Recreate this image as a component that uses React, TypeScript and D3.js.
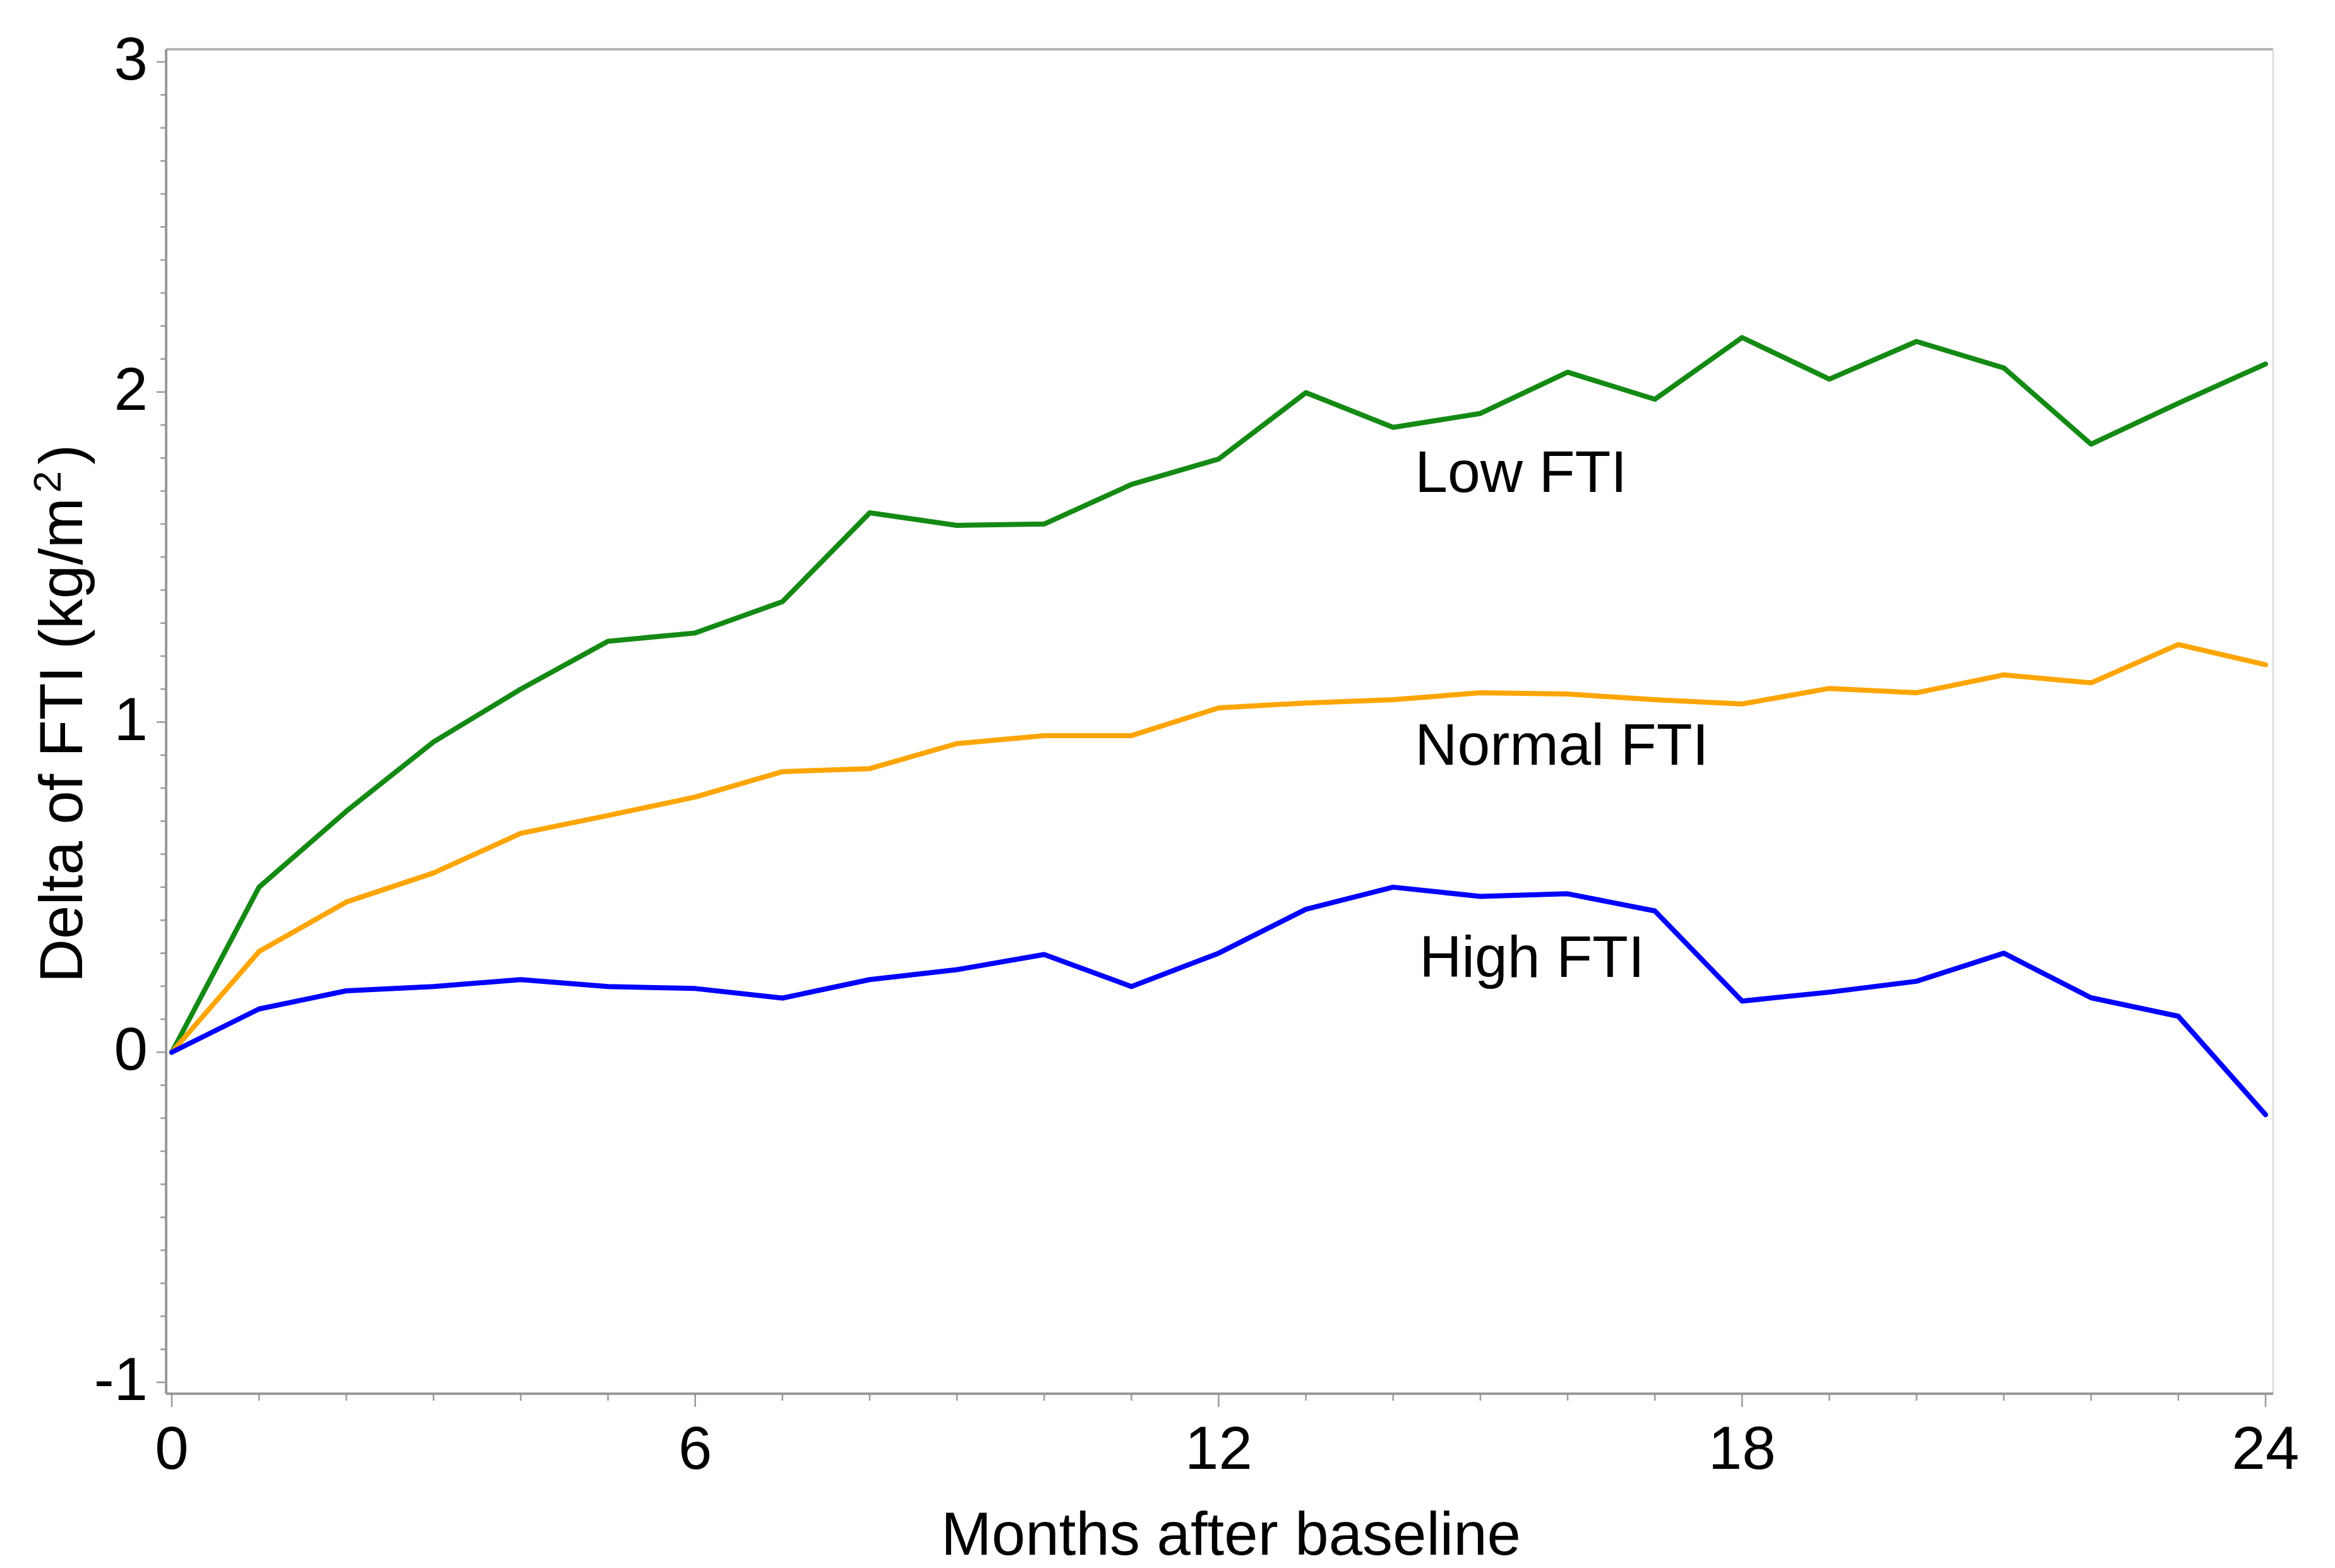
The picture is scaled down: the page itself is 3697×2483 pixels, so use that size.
import React from 'react';
import * as d3 from 'd3';

// months 0..24 after baseline
const months = d3.range(0, 25);

const lowFTI = [
  0, 0.50, 0.73, 0.94, 1.10, 1.245, 1.27, 1.365, 1.634, 1.596, 1.60, 1.72, 1.797,
  1.998, 1.893, 1.935, 2.06, 1.978, 2.165, 2.039, 2.153, 2.073, 1.842, 1.966, 2.085,
];
const normalFTI = [
  0, 0.305, 0.455, 0.543, 0.663, 0.717, 0.773, 0.85, 0.859, 0.935, 0.959, 0.959, 1.043,
  1.058, 1.068, 1.089, 1.085, 1.068, 1.055, 1.102, 1.089, 1.143, 1.119, 1.235, 1.174,
];
const highFTI = [
  0, 0.131, 0.186, 0.199, 0.22, 0.199, 0.193, 0.164, 0.22, 0.25, 0.296, 0.199, 0.30,
  0.433, 0.50, 0.472, 0.48, 0.428, 0.155, 0.182, 0.215, 0.30, 0.165, 0.109, -0.189,
];

const seriesNames = ['Low FTI', 'Normal FTI', 'High FTI'];
const seriesValues = [lowFTI, normalFTI, highFTI];
const seriesColors = ['#148a14', '#ffa500', '#0000ff'];
// where the in-plot labels sit, in data units [month, value]
const labelAt = [
  [14.25, 1.697],
  [14.25, 0.87],
  [14.3, 0.228],
];

const xTicks = [0, 6, 12, 18, 24];
const yTicks = [-1, 0, 1, 2, 3];

const W = 3697;
const H = 2483;
const FONT = '"Liberation Sans", Arial, Helvetica, sans-serif';

const App = () => {
  const x = d3.scaleLinear().domain([0, 24]).range([272, 3587]);
  const y = d3.scaleLinear().domain([-1, 3]).range([2189, 98]);

  const frame = { left: 263, right: 3599, top: 78, bottom: 2207 };

  const line = d3
    .line<number>()
    .x((d, i) => x(months[i]))
    .y(d => y(d));

  const minorY = d3.range(-10, 31).map(v => v / 10).filter(v => !Number.isInteger(v));
  const minorX = months.filter(m => !xTicks.includes(m));

  const axisColor = '#9a9a9a';

  return (
    <svg
      width={W}
      height={H}
      style={{ position: 'absolute', left: 0, top: 0, background: '#fff', display: 'block' }}
      fontFamily={FONT}
    >
      <rect x={0} y={0} width={W} height={H} fill="#fff" />

      {/* frame */}
      <line x1={frame.left} x2={frame.right} y1={frame.top} y2={frame.top} stroke="#b4b4b4" strokeWidth={4} />
      <line x1={frame.right} x2={frame.right} y1={frame.top} y2={frame.bottom} stroke="#dadada" strokeWidth={2.5} />

      {/* y axis */}
      <line x1={frame.left} x2={frame.left} y1={frame.top} y2={frame.bottom} stroke={axisColor} strokeWidth={4} />
      {minorY.map(v => (
        <line key={'my' + v} x1={frame.left - 9} x2={frame.left} y1={y(v)} y2={y(v)} stroke={axisColor} strokeWidth={2.5} />
      ))}
      {yTicks.map(v => (
        <g key={'y' + v}>
          <line x1={frame.left - 15} x2={frame.left} y1={y(v)} y2={y(v)} stroke={axisColor} strokeWidth={2.5} />
          <text x={234} y={y(v) + 28} textAnchor="end" fontSize={96} fill="#000">
            {v < 0 ? '-' + Math.abs(v) : v}
          </text>
        </g>
      ))}

      {/* x axis */}
      <line x1={frame.left} x2={frame.right} y1={frame.bottom} y2={frame.bottom} stroke={axisColor} strokeWidth={4} />
      {minorX.map(m => (
        <line key={'mx' + m} x1={x(m)} x2={x(m)} y1={frame.bottom} y2={frame.bottom + 11} stroke={axisColor} strokeWidth={2.5} />
      ))}
      {xTicks.map(m => (
        <g key={'x' + m}>
          <line x1={x(m)} x2={x(m)} y1={frame.bottom} y2={frame.bottom + 21} stroke={axisColor} strokeWidth={2.5} />
          <text x={x(m)} y={2326} textAnchor="middle" fontSize={96} fill="#000">
            {m}
          </text>
        </g>
      ))}

      {/* axis titles */}
      <text x={1949} y={2462} textAnchor="middle" fontSize={96} fill="#000">
        Months after baseline
      </text>
      <text transform="translate(130,1130) rotate(-90)" textAnchor="middle" fontSize={96} fill="#000">
        Delta of FTI (kg/m
        <tspan dx={8} dy={-34} fontSize={62}>2</tspan>
        <tspan dx={10} dy={34}>)</tspan>
      </text>

      {/* series */}
      {seriesValues.map((vals, i) => (
        <path
          key={seriesNames[i]}
          d={line(vals) || ''}
          fill="none"
          stroke={seriesColors[i]}
          strokeWidth={8}
          strokeLinejoin="round"
          strokeLinecap="round"
        />
      ))}

      {/* in-plot labels */}
      {seriesNames.map((name, i) => (
        <text key={'l' + name} x={x(labelAt[i][0])} y={y(labelAt[i][1])} fontSize={93} fill="#000">
          {name}
        </text>
      ))}
    </svg>
  );
};

export default App;
